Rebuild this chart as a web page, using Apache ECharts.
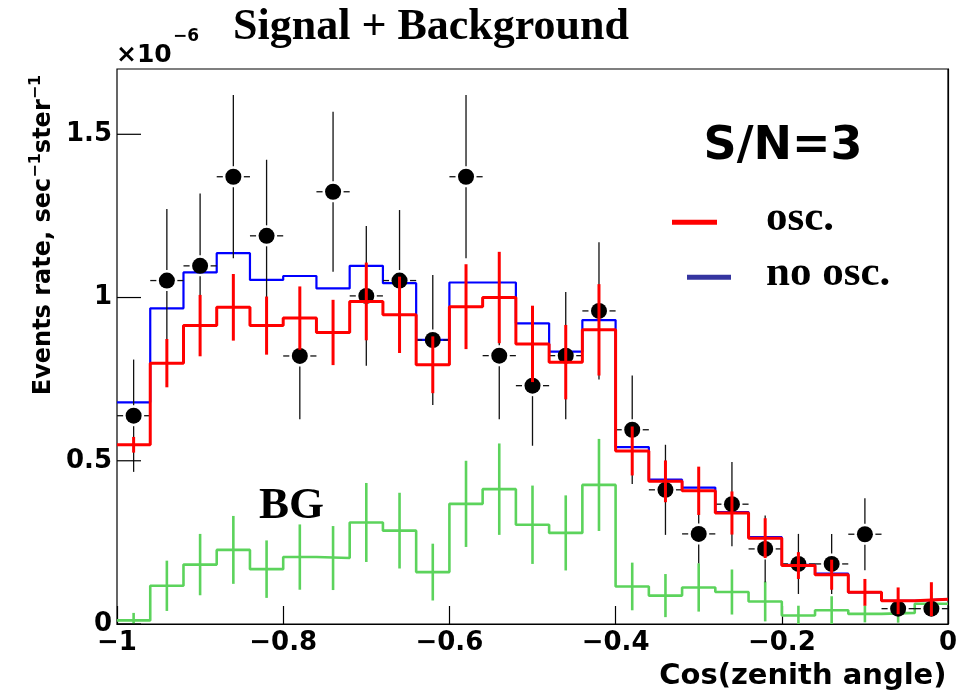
<!DOCTYPE html>
<html><head><meta charset="utf-8">
<script src="https://cdn.jsdelivr.net/npm/echarts@6/dist/echarts.min.js"></script>
<style>html,body{margin:0;padding:0;background:#fff}#c{width:970px;height:695px}</style>
</head><body><div id="c"></div>
<script>
// bin structure
const binCenters = [-0.98,-0.94,-0.90,-0.86,-0.82,-0.78,-0.74,-0.70,-0.66,-0.62,-0.58,-0.54,-0.50,-0.46,-0.42,-0.38,-0.34,-0.30,-0.26,-0.22,-0.18,-0.14,-0.10,-0.06,-0.02];
const binHalfWidth = 0.02;
// measured data points (signal + background), units of 1e-6
const dataVals = [0.638,1.052,1.097,1.370,1.189,0.821,1.324,1.005,1.052,0.870,1.370,0.822,0.730,0.822,0.959,0.595,0.411,0.276,0.367,0.230,0.184,0.184,0.275,0.047,0.047];
const dataErr  = [0.172,0.219,0.222,0.250,0.233,0.194,0.245,0.214,0.216,0.199,0.250,0.195,0.184,0.195,0.210,0.166,0.138,0.090,0.129,0.102,0.092,0.092,0.110,0.025,0.025];
// osc. expectation
const oscVals = [0.549,0.799,0.914,0.970,0.914,0.937,0.893,0.988,0.947,0.794,0.972,1.000,0.858,0.802,0.901,0.530,0.437,0.408,0.340,0.263,0.179,0.151,0.097,0.071,0.076];
const oscErr  = [0.024,0.074,0.094,0.102,0.089,0.097,0.100,0.119,0.117,0.087,0.130,0.140,0.117,0.114,0.140,0.075,0.064,0.074,0.066,0.061,0.041,0.046,0.041,0.041,0.052];
// no osc. expectation
const noOscVals = [0.679,0.967,1.077,1.136,1.054,1.066,1.028,1.097,1.044,0.870,1.046,1.046,0.921,0.834,0.931,0.542,0.442,0.418,0.343,0.266,0.181,0.154,0.097,0.071,0.076];
// background
const bgVals = [0.011,0.117,0.182,0.227,0.168,0.205,0.202,0.311,0.286,0.159,0.368,0.413,0.304,0.279,0.426,0.115,0.087,0.112,0.098,0.069,0.026,0.042,0.031,0.034,0.062];
const bgErr  = [0.023,0.077,0.094,0.104,0.088,0.100,0.098,0.121,0.116,0.087,0.132,0.140,0.120,0.115,0.141,0.073,0.066,0.074,0.069,0.061,0.030,0.043,0.026,0.030,0.036];
// axis ticks
const xTickLabels = [-1,-0.8,-0.6,-0.4,-0.2,0];
const yTickLabels = [0,0.5,1,1.5];

const SANS = '"DejaVu Sans", sans-serif';
const SERIF = '"Liberation Serif", "Times New Roman", serif';

function steps(vals){
  const out = [];
  binCenters.forEach((c,i)=>{
    out.push([+(c-binHalfWidth).toFixed(4), vals[i]]);
    out.push([+(c+binHalfWidth).toFixed(4), vals[i]]);
  });
  return out;
}
function triples(vals, errs){ return binCenters.map((c,i)=>[c, vals[i], errs[i]]); }

function errBars(color, width, gap, withH){
  return function(params, api){
    const x = api.value(0), y = api.value(1), e = api.value(2);
    const p = api.coord([x,y]), t = api.coord([x,y+e]), b = api.coord([x,y-e]);
    const l = api.coord([x-binHalfWidth,y]), r = api.coord([x+binHalfWidth,y]);
    const st = {stroke:color, lineWidth:width};
    const ch = [];
    const seg = (x1,y1,x2,y2)=>ch.push({type:'line',shape:{x1,y1,x2,y2},style:st});
    if (gap > 0) {
      if (p[1]-gap > t[1]) seg(p[0],t[1],p[0],p[1]-gap);
      if (b[1] > p[1]+gap) seg(p[0],p[1]+gap,p[0],b[1]);
    } else {
      seg(p[0],t[1],p[0],b[1]);
    }
    if (withH){
      seg(l[0],p[1],p[0]-gap,p[1]);
      seg(p[0]+gap,p[1],r[0],p[1]);
    }
    return {type:'group',children:ch};
  };
}

const chart = echarts.init(document.getElementById('c'), null, {renderer:'canvas'});
const minus = v => String(v).replace('-', '\u2212');
const isYTick = v => yTickLabels.some(t => Math.abs(t - v) < 1e-6);

chart.setOption({
  animation:false,
  backgroundColor:'#fff',
  grid:{left:117, right:22, top:69, bottom:71, show:true, borderColor:'#000', borderWidth:1.2, backgroundColor:'transparent'},
  xAxis:{
    type:'value', min:-1, max:0, interval:0.2,
    axisLine:{show:true, lineStyle:{color:'#000', width:1.2}},
    axisTick:{show:true, inside:true, length:18, lineStyle:{color:'#000', width:1.2}},
    splitLine:{show:false},
    axisLabel:{color:'#000', fontFamily:SANS, fontWeight:'bold', fontSize:26, margin:6,
      formatter:v=>minus(+v.toFixed(1))}
  },
  yAxis:{
    type:'value', min:0, max:1.7, interval:0.5,
    axisLine:{show:true, lineStyle:{color:'#000', width:1.2}},
    axisTick:{show:false},
    splitLine:{show:false},
    axisLabel:{color:'#000', fontFamily:SANS, fontWeight:'bold', fontSize:26, margin:5,
      showMaxLabel:false, formatter:v=>isYTick(v) ? String(+v.toFixed(1)) : ''}
  },
  series:[
    {type:'custom', name:'y ticks', data:yTickLabels.map(v=>[-1, v]), z:7, encode:{x:0,y:1}, silent:true,
      renderItem:function(params, api){
        const p = api.coord([api.value(0), api.value(1)]);
        return {type:'line', shape:{x1:p[0], y1:p[1], x2:p[0]+24, y2:p[1]}, style:{stroke:'#000', lineWidth:1.2}};
      }},
    {type:'line', name:'BG', data:steps(bgVals), symbol:'none', z:2, clip:true,
      lineStyle:{color:'#5cd35c', width:2.6}},
    {type:'custom', name:'BG err', data:triples(bgVals,bgErr), z:2, clip:true, encode:{x:0,y:1},
      renderItem:errBars('#5cd35c',2.6,0,false)},
    {type:'line', name:'no osc.', data:steps(noOscVals), symbol:'none', z:3, clip:true,
      lineStyle:{color:'#0000ff', width:2.2}},
    {type:'custom', name:'data err', data:triples(dataVals,dataErr), z:4, clip:true, encode:{x:0,y:1},
      renderItem:errBars('#111',1.3,10.5,true)},
    {type:'scatter', name:'data', data:binCenters.map((c,i)=>[c,dataVals[i]]), z:5,
      symbol:'circle', symbolSize:16, itemStyle:{color:'#000', opacity:1}},
    {type:'line', name:'osc.', data:steps(oscVals), symbol:'none', z:6, clip:true,
      lineStyle:{color:'#ff0000', width:3}},
    {type:'custom', name:'osc err', data:triples(oscVals,oscErr), z:6, clip:true, encode:{x:0,y:1},
      renderItem:errBars('#ff0000',3,0,false)}
  ],
  graphic:[
    {type:'text', x:431, y:28, style:{text:'Signal + Background', font:'bold 44px '+SERIF, fill:'#000', align:'center', verticalAlign:'middle'}},
    {type:'text', x:116, y:55, style:{text:'\u00d710', font:'bold 25px '+SANS, fill:'#000', align:'left', verticalAlign:'middle'}},
    {type:'text', x:173, y:37, style:{text:'\u22126', font:'bold 17px '+SANS, fill:'#000', align:'left', verticalAlign:'middle'}},
    {type:'text', x:783, y:147, style:{text:'S/N=3', font:'bold 46px '+SANS, fill:'#000', align:'center', verticalAlign:'middle'}},
    {type:'line', shape:{x1:672, y1:222.3, x2:717, y2:222.3}, style:{stroke:'#ff0000', lineWidth:5}},
    {type:'line', shape:{x1:687, y1:277.3, x2:731, y2:277.3}, style:{stroke:'#3535a0', lineWidth:5}},
    {type:'text', x:766, y:218.5, style:{text:'osc.', font:'bold 43px '+SERIF, fill:'#000', align:'left', verticalAlign:'middle'}},
    {type:'text', x:766, y:273.5, style:{text:'no osc.', font:'bold 43px '+SERIF, fill:'#000', align:'left', verticalAlign:'middle'}},
    {type:'text', x:259, y:506, style:{text:'BG', font:'bold 45px '+SERIF, fill:'#000', align:'left', verticalAlign:'middle'}},
    {type:'text', x:946.5, y:676, style:{text:'Cos(zenith angle)', font:'bold 29px '+SANS, fill:'#000', align:'right', verticalAlign:'middle'}},
    {type:'text', x:41, y:235, rotation:Math.PI/2,
      style:{text:'{m|Events rate, sec}{s|\u22121}{m|ster}{s|\u22121}', align:'center', verticalAlign:'middle', fill:'#000',
        rich:{
          m:{font:'bold 24px '+SANS, fill:'#000', verticalAlign:'bottom', lineHeight:30},
          s:{font:'bold 16px '+SANS, fill:'#000', verticalAlign:'bottom', padding:[0,0,12,0], lineHeight:18}
        }}}
  ]
});
</script>
</body></html>
